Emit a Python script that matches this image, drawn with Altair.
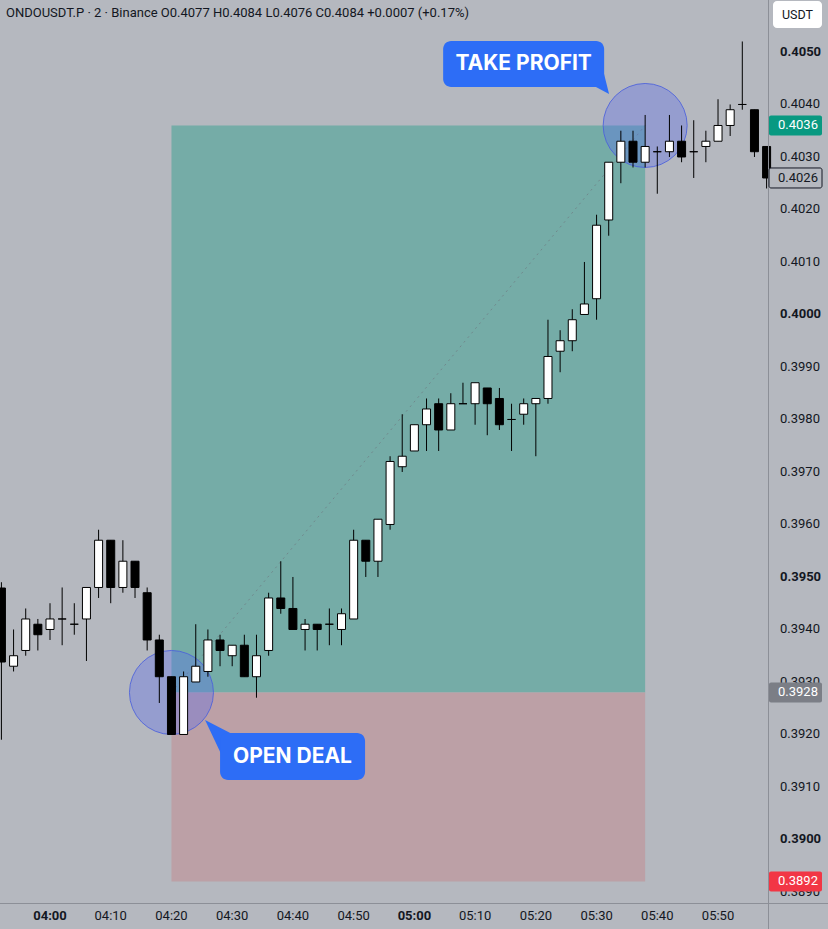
import altair as alt
import pandas as pd

# ---------------- data ----------------
times = ["03:52", "03:54", "03:56", "03:58", "04:00", "04:02", "04:04", "04:06", "04:08", "04:10",
         "04:12", "04:14", "04:16", "04:18", "04:20", "04:22", "04:24", "04:26", "04:28", "04:30",
         "04:32", "04:34", "04:36", "04:38", "04:40", "04:42", "04:44", "04:46", "04:48", "04:50",
         "04:52", "04:54", "04:56", "04:58", "05:00", "05:02", "05:04", "05:06", "05:08", "05:10",
         "05:12", "05:14", "05:16", "05:18", "05:20", "05:22", "05:24", "05:26", "05:28", "05:30",
         "05:32", "05:34", "05:36", "05:38", "05:40", "05:42", "05:44", "05:46", "05:48", "05:50",
         "05:52", "05:54", "05:56", "05:58"]
opens = [0.39479, 0.3933, 0.3936, 0.3941, 0.3940, 0.3942, 0.3941, 0.3942, 0.3948, 0.3957,
         0.3948, 0.3953, 0.3947, 0.3938, 0.3931, 0.3920, 0.3930, 0.3932, 0.3938, 0.3935,
         0.3937, 0.3931, 0.3936, 0.3946, 0.3944, 0.3940, 0.3941, 0.3941, 0.3940, 0.3942,
         0.3957, 0.3953, 0.3960, 0.3971, 0.3974, 0.3979, 0.3983, 0.3978, 0.3983, 0.3983,
         0.3986, 0.3984, 0.3980, 0.3981, 0.3983, 0.3984, 0.3993, 0.3995, 0.4000, 0.4003,
         0.4018, 0.4029, 0.4033, 0.4029, 0.4031, 0.4031, 0.4033, 0.4031, 0.4032, 0.4033,
         0.4036, 0.4040, 0.4039, 0.4032]
highs = [0.3949, 0.3940, 0.3944, 0.3942, 0.3945, 0.3948, 0.3945, 0.3948, 0.3959, 0.3957,
         0.3957, 0.3953, 0.3948, 0.3939, 0.3931, 0.3932, 0.3941, 0.3940, 0.3939, 0.3937,
         0.3939, 0.3939, 0.3947, 0.3953, 0.3950, 0.3942, 0.3941, 0.3944, 0.3944, 0.3959,
         0.3957, 0.3961, 0.3973, 0.3981, 0.3979, 0.3984, 0.3984, 0.3985, 0.3987, 0.3987,
         0.3986, 0.3986, 0.3983, 0.3984, 0.3984, 0.3999, 0.3997, 0.4001, 0.4010, 0.4019,
         0.4029, 0.4035, 0.4035, 0.4038, 0.4032, 0.4038, 0.4036, 0.4037, 0.4035, 0.4041,
         0.4040, 0.4052, 0.4039, 0.4032]
lows = [0.3919, 0.3932, 0.3935, 0.3936, 0.3938, 0.3937, 0.3939, 0.3934, 0.3946, 0.3945,
        0.3947, 0.3946, 0.3936, 0.3926, 0.3920, 0.3920, 0.3930, 0.3931, 0.3933, 0.3933,
        0.3931, 0.3927, 0.3935, 0.3943, 0.3940, 0.3936, 0.3936, 0.3937, 0.3937, 0.3942,
        0.3950, 0.3950, 0.3959, 0.3970, 0.3974, 0.3974, 0.3974, 0.3978, 0.3983, 0.3979,
        0.3977, 0.3978, 0.3974, 0.3979, 0.3973, 0.3983, 0.3989, 0.3993, 0.4000, 0.3999,
        0.4015, 0.4025, 0.4028, 0.4028, 0.4023, 0.4030, 0.4029, 0.4026, 0.4029, 0.4033,
        0.4034, 0.4039, 0.4030, 0.4024]
closes = [0.39338, 0.3935, 0.3942, 0.3939, 0.3942, 0.3942, 0.3941, 0.3948, 0.3957, 0.3948,
          0.3953, 0.3948, 0.3938, 0.3931, 0.3920, 0.3931, 0.3933, 0.3938, 0.3936, 0.3937,
          0.3931, 0.3935, 0.3946, 0.3944, 0.3940, 0.3941, 0.3940, 0.3941, 0.3943, 0.3957,
          0.3953, 0.3961, 0.3972, 0.3973, 0.3979, 0.3982, 0.3978, 0.3983, 0.3983, 0.3987,
          0.3983, 0.3979, 0.3980, 0.3983, 0.3984, 0.3992, 0.3995, 0.3999, 0.4002, 0.4017,
          0.4029, 0.4033, 0.4029, 0.4032, 0.4031, 0.4033, 0.4030, 0.4031, 0.4033, 0.4036,
          0.4039, 0.4040, 0.4031, 0.4026]

entry_time = "04:20"
exit_time = "05:38"
entry_price = 0.3928
take_profit = 0.4036
stop_loss = 0.3892
last_price = 0.4026

x_tick_labels = ["04:00", "04:10", "04:20", "04:30", "04:40", "04:50",
                 "05:00", "05:10", "05:20", "05:30", "05:40", "05:50"]
y_ticks = [0.3890, 0.3900, 0.3910, 0.3920, 0.3930, 0.3940, 0.3950, 0.3960, 0.3970,
           0.3980, 0.3990, 0.4000, 0.4010, 0.4020, 0.4030, 0.4040, 0.4050]

header = "ONDOUSDT.P · 2 · Binance O0.4077 H0.4084 L0.4076 C0.4084 +0.0007 (+0.17%)"


def to_min(t):
    h, m = t.split(":")
    return int(h) * 60 + int(m) - 240


# ---------------- styling ----------------
FONT = "Roboto"
CALLOUT_FONT = "Inter"
BG = "#b5b8bf"
GREEN_ZONE = "#75aca7"
RED_ZONE = "#bca0a6"
BLUE = "#2d6df6"
INK = "#131722"

W, H = 768, 903
xs = alt.Scale(domain=[-8.234, 118.23], nice=False, zero=False, padding=0)
ys = alt.Scale(domain=[0.38879, 0.40599], nice=False, zero=False, padding=0)

candles = pd.DataFrame({
    "t": [to_min(t) for t in times],
    "o": opens, "h": highs, "l": lows, "c": closes,
})
candles["dir"] = ["up" if c >= o else "down" for o, c in zip(opens, closes)]

t0, t1 = to_min(entry_time), to_min(exit_time)
zones = pd.DataFrame({
    "t0": [t0, t0], "t1": [t1, t1],
    "p0": [entry_price, stop_loss], "p1": [take_profit, entry_price],
    "zone": ["profit", "loss"],
})
diag = pd.DataFrame({"t": [t0, t1], "p": [entry_price, take_profit]})
anchors = pd.DataFrame({"t": [t0, t1], "p": [entry_price, take_profit]})
entry_df = pd.DataFrame({"t": [t0], "p": [entry_price], "label": ["OPEN DEAL"]})
tp_df = pd.DataFrame({"t": [t1], "p": [take_profit], "label": ["TAKE PROFIT"]})
one = pd.DataFrame({"a": [0]})

y_lab = pd.DataFrame({
    "p": y_ticks,
    "label": [f"{v:.4f}" for v in y_ticks],
    "bold": [round(v * 10000) % 50 == 0 for v in y_ticks],
})
x_lab = pd.DataFrame({
    "t": [to_min(t) for t in x_tick_labels],
    "label": x_tick_labels,
    "bold": [t.endswith(":00") for t in x_tick_labels],
})

X = lambda f: alt.X(f, scale=xs, axis=None)
Y = lambda f: alt.Y(f, scale=ys, axis=None)

zone_layer = alt.Chart(zones).mark_rect().encode(
    x=X("t0:Q"), x2="t1", y=Y("p0:Q"), y2="p1",
    color=alt.Color("zone:N", scale=alt.Scale(domain=["profit", "loss"], range=[GREEN_ZONE, RED_ZONE]), legend=None),
)

diag_layer = alt.Chart(diag).mark_line(strokeDash=[2, 4], color="#6f7f86", strokeWidth=1, opacity=0.8).encode(
    x=X("t:Q"), y=Y("p:Q"),
)

circles = alt.Chart(anchors).mark_point(
    shape="circle", size=7056, filled=True, fill="#5468f0", fillOpacity=0.33,
    stroke="#4a5fdc", strokeWidth=1, strokeOpacity=0.85,
).encode(x=X("t:Q"), y=Y("p:Q"))

wicks = alt.Chart(candles).mark_rule(color="#000000", strokeWidth=1).encode(
    x=X("t:Q"), y=Y("l:Q"), y2="h",
)

bodies = alt.Chart(candles).mark_bar(width=8, stroke="#000000", strokeWidth=1).encode(
    x=X("t:Q"), y=Y("o:Q"), y2="c",
    fill=alt.Fill("dir:N", scale=alt.Scale(domain=["up", "down"], range=["#ffffff", "#000000"]), legend=None),
)


def callout(df, box, text_off, tail_off, tail_path, tail_size):
    base = alt.Chart(df).encode(x=X("t:Q"), y=Y("p:Q"))
    rect = base.mark_rect(
        fill=BLUE, cornerRadius=8,
        xOffset=box[0], x2Offset=box[1], yOffset=box[2], y2Offset=box[3],
    ).encode(x2="t", y2="p")
    tail = base.mark_point(
        shape=tail_path, size=tail_size, filled=True, fill=BLUE, opacity=1, strokeWidth=0,
        xOffset=tail_off[0], yOffset=tail_off[1],
    )
    label = base.mark_text(
        font=CALLOUT_FONT, fontSize=21, fontWeight="bold", color="#ffffff",
        dx=text_off[0], dy=text_off[1], align="center", baseline="middle",
    ).encode(text="label:N")
    return tail + rect + label


open_callout = callout(entry_df, (48.6, 193.6, 40.5, 87.5), (121, 64.5), (48.6, 42.5),
                       "M-0.682,-0.682 L0.727,0.045 L0.091,0.955 Z", 1936)
tp_callout = callout(tp_df, (-202, -41, -84.5, -38.5), (-121.5, -61.5), (-45.1, -40.5),
                     "M-0.5,0.083 L0.333,-0.917 L0.75,0.75 Z", 576)

# axis frame lines
vline = alt.Chart(one).mark_rule(color="#8c8f97", strokeWidth=1).encode(
    x=alt.value(768.5), y=alt.value(0), y2=alt.value(929))
hline = alt.Chart(one).mark_rule(color="#8c8f97", strokeWidth=1).encode(
    x=alt.value(0), x2=alt.value(828), y=alt.value(903.5))

# tick labels, placed through the chart's own scales
y_labels = alt.layer(*[
    alt.Chart(y_lab).transform_filter(f"datum.bold == {str(b).lower()}").mark_text(
        font=FONT, fontSize=13, color=INK, align="left", baseline="middle",
        fontWeight="bold" if b else "normal",
    ).encode(x=alt.value(780), y=Y("p:Q"), text="label:N")
    for b in (False, True)
])
x_labels = alt.layer(*[
    alt.Chart(x_lab).transform_filter(f"datum.bold == {str(b).lower()}").mark_text(
        font=FONT, fontSize=13, color=INK, align="center", baseline="middle",
        fontWeight="bold" if b else "normal",
    ).encode(x=X("t:Q"), y=alt.value(916), text="label:N")
    for b in (False, True)
])


def badge(price, fill, text_color, stroke=None):
    df = pd.DataFrame({"p": [price], "label": [f"{price:.4f}"]})
    kw = dict(fill=fill, cornerRadius=2, yOffset=-10, y2Offset=10)
    if stroke:
        kw.update(stroke=stroke, strokeWidth=1)
    rect = alt.Chart(df).mark_rect(**kw).encode(
        x=alt.value(769), x2=alt.value(822), y=Y("p:Q"), y2="p",
    )
    txt = alt.Chart(df).mark_text(font=FONT, fontSize=13, color=text_color, align="left", baseline="middle").encode(
        x=alt.value(778), y=Y("p:Q"), text="label:N")
    return rect + txt


b_tp = badge(take_profit, "#089981", "#ffffff")
b_last = badge(last_price, BG, INK, stroke="#131722")
b_entry = badge(entry_price, "#7b7e86", "#ffffff")
b_sl = badge(stop_loss, "#f23645", "#ffffff")

usdt_box = alt.Chart(one).mark_rect(fill="#ffffff", cornerRadius=4).encode(
    x=alt.value(773), x2=alt.value(822), y=alt.value(1), y2=alt.value(28))
usdt_txt = alt.Chart(pd.DataFrame({"label": ["USDT"]})).mark_text(
    font=FONT, fontSize=12.5, color=INK, align="center", baseline="middle").encode(
    x=alt.value(797.5), y=alt.value(14.5), text="label:N")

head = alt.Chart(pd.DataFrame({"label": [header]})).mark_text(
    font=FONT, fontSize=13, color=INK, align="left", baseline="middle").encode(
    x=alt.value(6), y=alt.value(13), text="label:N")

chart = alt.layer(
    zone_layer, diag_layer, circles, wicks, bodies,
    open_callout, tp_callout,
    vline, hline,
    y_labels, x_labels,
    b_tp, b_last, b_entry, b_sl,
    usdt_box, usdt_txt, head,
).properties(
    width=W, height=H,
    autosize=alt.AutoSizeParams(type="none"),
    padding={"left": 0, "top": 0, "right": 60, "bottom": 26},
    background=BG,
).configure_view(stroke=None)

chart.save("out.html", embed_options={"renderer": "svg", "actions": False})
